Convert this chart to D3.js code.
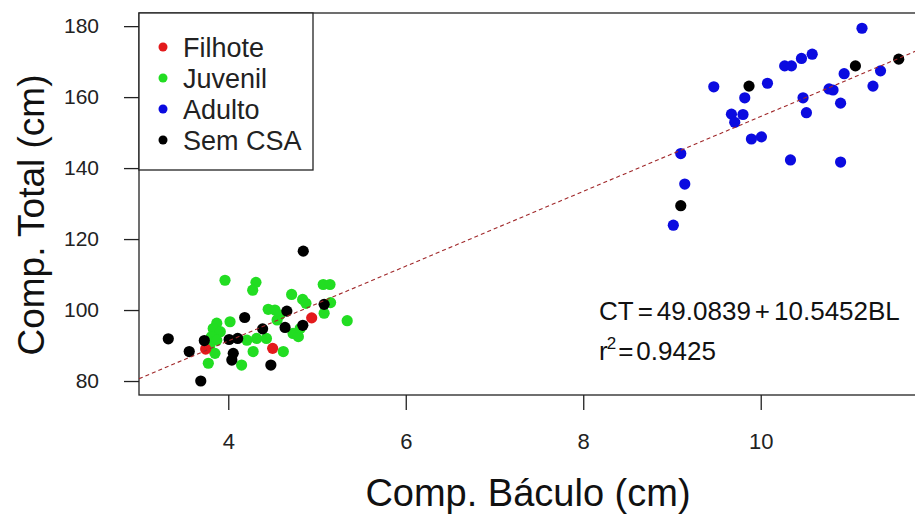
<!DOCTYPE html>
<html>
<head>
<meta charset="utf-8">
<script src="https://cdn.jsdelivr.net/npm/d3@7"></script>
<style>
  html, body { margin: 0; padding: 0; background: #fff; }
  svg { display: block; font-family: "Liberation Sans", Arial, sans-serif; }
</style>
</head>
<body>
<svg id="chart" width="915" height="521"></svg>
<script>
// ---- data ----
const groups = ["Filhote", "Juvenil", "Adulto", "Sem CSA"];
const groupColors = ["#e31a1c", "#22dd22", "#0b0be0", "#000000"];

const filhoteX = [3.745, 4.50, 4.94];
const filhoteY = [89.0, 89.2, 97.8];

const juvenilX = [3.963, 4.312, 4.275, 4.714, 4.838, 4.875, 5.07, 5.146, 5.153, 5.08, 5.34,
                  4.45, 4.526, 4.55, 3.87, 4.02, 3.83, 3.91, 3.81, 3.87, 3.79, 3.85, 3.775,
                  4.15, 4.28, 4.32, 4.43, 4.21, 4.62, 4.73, 4.79, 4.81, 4.58];
const juvenilY = [108.4, 107.8, 105.6, 104.4, 103.0, 101.9, 107.2, 107.2, 102.1, 99.1, 97.0,
                  100.2, 100.0, 97.2, 96.3, 96.7, 94.8, 93.9, 92.5, 91.5, 89.7, 87.8, 85.0,
                  84.5, 88.3, 92.0, 92.0, 91.5, 88.3, 93.4, 92.5, 94.8, 98.6];

const adultoX = [11.141, 9.471, 10.076, 9.82, 10.27, 10.346, 10.459, 10.58, 10.94, 11.35, 11.265,
                 10.77, 10.815, 10.477, 10.90, 10.515, 9.67, 9.80, 9.707, 9.895, 10.008, 10.335,
                 10.90, 9.099, 9.144, 9.015];
const adultoY = [179.4, 162.9, 163.9, 159.8, 168.8, 168.8, 170.9, 172.1, 166.6, 167.4, 163.1,
                 162.3, 162.0, 159.8, 158.3, 155.6, 155.2, 155.1, 152.9, 148.2, 148.8, 142.3,
                 141.7, 144.1, 135.5, 123.9];

const semX = [4.845, 3.324, 3.56, 3.69, 3.73, 4.01, 4.106, 4.185, 4.056, 4.04, 4.48, 4.387,
              4.66, 4.64, 4.84, 5.08, 11.555, 11.067, 9.868, 9.099];
const semY = [116.6, 91.9, 88.3, 80.0, 91.4, 91.7, 92.0, 97.9, 87.8, 85.9, 84.5, 94.7,
              99.7, 95.1, 95.7, 101.6, 170.7, 168.8, 163.1, 129.4];

const xTicks = [4, 6, 8, 10];
const yTicks = [80, 100, 120, 140, 160, 180];
const intercept = 49.0839, slope = 10.5452, r2 = "0.9425";
const xTitle = "Comp. Báculo (cm)";
const yTitle = "Comp. Total (cm)";

// ---- layout ----
const svg = d3.select("#chart");
const pL = 139, pR = 932, pT = 13, pB = 395;
const x = d3.scaleLinear().domain([2.994, 11.93]).range([pL, pR]);
const y = d3.scaleLinear().domain([76.06, 183.7]).range([pB, pT]);

svg.append("defs").append("clipPath").attr("id", "plotclip")
  .append("rect").attr("x", pL).attr("y", pT).attr("width", pR - pL).attr("height", pB - pT);

// box
svg.append("rect").attr("x", pL).attr("y", pT).attr("width", pR - pL).attr("height", pB - pT)
  .attr("fill", "none").attr("stroke", "#222").attr("stroke-width", 1.3);

// axes
const xAxis = d3.axisBottom(x).tickValues(xTicks).tickSize(15).tickPadding(23).tickFormat(d3.format("d"));
const gx = svg.append("g").attr("transform", `translate(0,${pB})`).call(xAxis);
gx.select(".domain").remove();
gx.selectAll("line").attr("stroke", "#222").attr("stroke-width", 1.3);
gx.selectAll("text").attr("font-size", 22).attr("fill", "#222").attr("font-family", "Liberation Sans, Arial, sans-serif");

const yAxis = d3.axisLeft(y).tickValues(yTicks).tickSize(15).tickPadding(25).tickFormat(d3.format("d"));
const gy = svg.append("g").attr("transform", `translate(${pL},0)`).call(yAxis);
gy.select(".domain").remove();
gy.selectAll("line").attr("stroke", "#222").attr("stroke-width", 1.3);
gy.selectAll("text").attr("font-size", 21).attr("fill", "#222").attr("font-family", "Liberation Sans, Arial, sans-serif");

// titles
svg.append("text").attr("x", 528).attr("y", 506).attr("text-anchor", "middle")
  .attr("font-size", 38).attr("fill", "#111").text(xTitle);
svg.append("text").attr("transform", `translate(44,215) rotate(-90)`)
  .attr("text-anchor", "middle").attr("font-size", 37).attr("fill", "#111").text(yTitle);

// points
const plot = svg.append("g").attr("clip-path", "url(#plotclip)");
const sets = [
  {xs: juvenilX, ys: juvenilY, c: groupColors[1]},
  {xs: filhoteX, ys: filhoteY, c: groupColors[0]},
  {xs: adultoX, ys: adultoY, c: groupColors[2]},
  {xs: semX, ys: semY, c: groupColors[3]}
];
sets.forEach(s => {
  plot.append("g").selectAll("circle").data(d3.range(s.xs.length)).join("circle")
    .attr("cx", i => x(s.xs[i])).attr("cy", i => y(s.ys[i])).attr("r", 5.6).attr("fill", s.c);
});

// regression line
const xd = x.domain();
plot.append("line")
  .attr("x1", x(xd[0])).attr("y1", y(intercept + slope * xd[0]))
  .attr("x2", x(xd[1])).attr("y2", y(intercept + slope * xd[1]))
  .attr("stroke", "#a0282a").attr("stroke-width", 1.1).attr("stroke-dasharray", "4,3");

// equation
const eq = svg.append("text").attr("x", 599).attr("y", 320).attr("font-size", 26).attr("fill", "#111");
eq.append("tspan").text("CT");
eq.append("tspan").attr("dx", 4).text("=");
eq.append("tspan").attr("dx", 4).text(String(intercept));
eq.append("tspan").attr("dx", 4).text("+");
eq.append("tspan").attr("dx", 4).text(`${slope}BL`);
const r2t = svg.append("text").attr("x", 599).attr("y", 360).attr("font-size", 26).attr("fill", "#111");
r2t.append("tspan").text("r");
r2t.append("tspan").attr("dy", -11).attr("dx", -1).attr("font-size", 17).text("2");
r2t.append("tspan").attr("dy", 11).attr("dx", 2).text("=");
r2t.append("tspan").attr("dx", 3).text(r2);

// legend
const lg = svg.append("g");
lg.append("rect").attr("x", pL).attr("y", pT).attr("width", 174).attr("height", 157)
  .attr("fill", "#fff").attr("stroke", "#222").attr("stroke-width", 1.3);
groups.forEach((g, i) => {
  const cy = 47 + i * 31;
  lg.append("circle").attr("cx", 163).attr("cy", cy).attr("r", 4.5).attr("fill", groupColors[i]);
  lg.append("text").attr("x", 183).attr("y", cy).attr("dy", "0.36em").attr("font-size", 27)
    .attr("fill", "#222").text(g);
});
</script>
</body>
</html>
